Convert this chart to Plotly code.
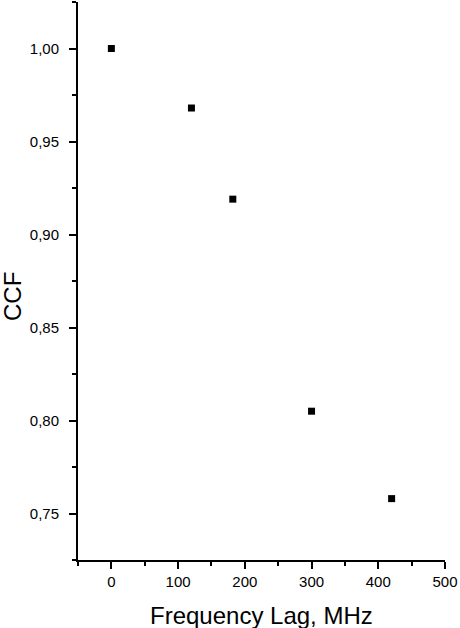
import plotly.graph_objects as go

freq_lag = [0, 120, 182, 300, 420]
ccf = [1.000, 0.968, 0.919, 0.805, 0.758]

x_ticks = [0, 100, 200, 300, 400, 500]
y_ticks = [0.75, 0.80, 0.85, 0.90, 0.95, 1.00]

FONT = "Liberation Sans, Arial, Helvetica, sans-serif"

fig = go.Figure()
fig.add_trace(go.Scatter(
    x=freq_lag, y=ccf, mode="markers",
    marker=dict(symbol="square", size=7, color="black", line=dict(width=0)),
    showlegend=False,
))

axis_common = dict(
    showline=True, linecolor="black", linewidth=2,
    ticks="outside", ticklen=7, tickwidth=1.5, tickcolor="black",
    showgrid=False, zeroline=False, mirror=False,
    tickfont=dict(family=FONT, size=15, color="black"),
)

fig.update_xaxes(
    range=[-50, 500], tickvals=x_ticks,
    minor=dict(ticks="outside", ticklen=4, tickwidth=1.5, tickcolor="black",
               dtick=50, tick0=0, showgrid=False),
    **axis_common,
)
fig.update_yaxes(
    range=[0.725, 1.025], tickvals=y_ticks, tickformat=".2f",
    ticklabelstandoff=7,
    minor=dict(ticks="outside", ticklen=4, tickwidth=1.5, tickcolor="black",
               dtick=0.025, tick0=0.725, showgrid=False),
    **axis_common,
)

fig.update_layout(
    width=460, height=628,
    margin=dict(l=78, r=13, t=2, b=68),
    paper_bgcolor="white", plot_bgcolor="white",
    separators=",.",
    font=dict(family=FONT, color="black"),
    annotations=[
        dict(text="Frequency Lag, MHz", xref="paper", yref="paper",
             x=0.5, y=0, yshift=-40, xanchor="center", yanchor="top",
             showarrow=False, font=dict(family=FONT, size=24, color="black")),
        dict(text="CCF", xref="paper", yref="paper",
             x=0, xshift=-66, y=(560 - 297) / 558, xanchor="center", yanchor="middle",
             textangle=-90, showarrow=False,
             font=dict(family=FONT, size=24, color="black")),
    ],
)

fig.write_html("out.html", config={"displayModeBar": False},
               post_script="document.body.style.margin='0';document.body.style.overflow='hidden';")
